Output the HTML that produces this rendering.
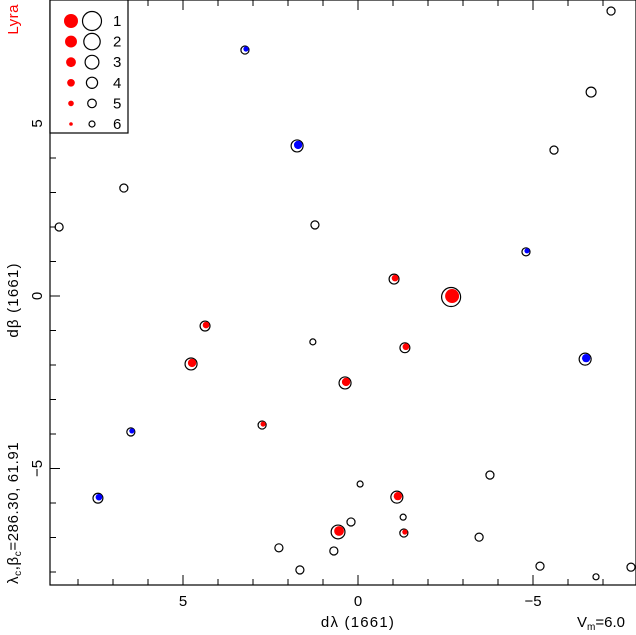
<!DOCTYPE html>
<html><head><meta charset="utf-8"><style>
html,body{margin:0;padding:0;background:#fff}
svg{display:block;font-family:"Liberation Sans",sans-serif}
</style></head><body>
<svg id="chart" width="636" height="635" viewBox="0 0 636 635">
<g id="marks"></g>
<g id="axes"></g>
</svg>
<script>
const xs   = [-2.66,3.23,1.74,-6.66,-7.23,-5.6,6.69,8.54,1.23,-4.8,-1.03,4.37,1.29,-1.34,4.77,-6.49,0.37,6.49,2.74,7.43,-0.06,-3.77,-1.11,0.57,0.2,-1.29,-1.31,-3.46,2.26,0.69,1.66,-5.2,-6.8,-7.8];
const ys   = [-0.03,7.13,4.35,5.91,8.26,4.23,3.13,2.0,2.06,1.28,0.49,-0.87,-1.33,-1.5,-1.97,-1.83,-2.52,-3.94,-3.74,-5.86,-5.45,-5.19,-5.83,-6.84,-6.55,-6.41,-6.87,-6.99,-7.3,-7.39,-7.94,-7.83,-8.14,-7.86];
const mags = [1,5.2,3.7,4.5,5.2,5.2,5.2,5.2,5.2,5.2,4.5,4.5,6,4.5,3.7,3.7,3.7,5.2,5.2,4.5,6,5.2,3.7,3,5.2,6,5.2,5.2,5.2,5.2,5.2,5.2,6,5.2];
const cols = ["red","blue","blue","","","","","","","blue","red","red","","red","red","blue","red","blue","red","blue","","","red","red","","","red","","","","","","",""];
const xTicks = [5,0,-5];
const yTicks = [5,0,-5];
const legendMags = [1,2,3,4,5,6];

const L=50,R=636,T=0,B=585;
const X=v=>358-35*v;
const Y=v=>296-34.5*v;
const rOpen=m=>9.5-1.3*(m-1);
const rFill=m=>Math.max(1.8,7-1.05*(m-1));
const NS="http://www.w3.org/2000/svg";
function mk(tag,attrs,parent){const e=document.createElementNS(NS,tag);for(const k in attrs)e.setAttribute(k,attrs[k]);parent.appendChild(e);return e;}
const marks=document.getElementById('marks'), axes=document.getElementById('axes');

for(let i=0;i<xs.length;i++){
  const cx=X(xs[i]),cy=Y(ys[i]);
  const c=mk('circle',{cx:cx,cy:cy,r:rOpen(mags[i]),fill:'none',stroke:'#000','stroke-width':1.2},marks);
  
  
  if(cols[i]){
    const d=mk('circle',{cx:cx+1,cy:cy-1,r:rFill(mags[i]),fill:cols[i]==='red'?'#f00':'#00f'},marks);
    
    
  }
}

const fr=mk('rect',{x:L,y:T,width:R-L,height:B-T,fill:'none',stroke:'#000','stroke-width':1.2},axes);


for(let v=-8;v<=9;v++){
  const x=X(v); if(x>L&&x<R){mk('line',{x1:x,y1:B,x2:x,y2:B-(v%5===0?10:6),stroke:'#000'},axes);mk('line',{x1:x,y1:T,x2:x,y2:T+(v%5===0?10:6),stroke:'#000'},axes);}
  const y=Y(v); if(y>T&&y<B){mk('line',{x1:L,y1:y,x2:L+(v%5===0?10:6),y2:y,stroke:'#000'},axes);}
}
xTicks.forEach(v=>{
  const t=mk('text',{x:X(v),y:606,'text-anchor':'middle','font-size':15},axes);
  t.textContent=v<0?'\u2212'+(-v):String(v);
  
  
});
yTicks.forEach(v=>{
  const t=mk('text',{x:0,y:0,'text-anchor':'middle','font-size':15,transform:`translate(42,${Y(v)}) rotate(-90)`},axes);
  t.textContent=v<0?'\u2212'+(-v):String(v);
  
  
});
const lg=mk('g',{},axes);


mk('rect',{x:L,y:0,width:78,height:133,fill:'#fff',stroke:'#000','stroke-width':1.2},lg);
legendMags.forEach((m,i)=>{
  const y=21+i*20.6;
  mk('circle',{cx:71,cy:y,r:rFill(m),fill:'#f00'},lg);
  mk('circle',{cx:92,cy:y,r:rOpen(m),fill:'none',stroke:'#000','stroke-width':1.2},lg);
  const t=mk('text',{x:113,y:y+5,'font-size':15},lg);
  t.textContent=String(m);
  
  
});
</script>
<svg width="636" height="635" style="position:absolute;left:0;top:0">
<text x="0" y="0" font-size="15" fill="#f00" text-anchor="end" letter-spacing="0.5" transform="translate(18,4) rotate(-90)">Lyra</text>
<text x="0" y="0" font-size="15" text-anchor="middle" letter-spacing="1.2" transform="translate(18,300) rotate(-90)">dβ (1661)</text>
<text x="0" y="0" font-size="15" text-anchor="start" letter-spacing="0.6" transform="translate(18,584) rotate(-90)">λ<tspan font-size="10" dy="3">c</tspan><tspan dy="-3">,β</tspan><tspan font-size="10" dy="3">c</tspan><tspan dy="-3">=286.30, 61.91</tspan></text>
<text x="358" y="627" font-size="15" text-anchor="middle" letter-spacing="1.2">dλ (1661)</text>
<text x="577" y="627" font-size="15">V<tspan font-size="10" dy="3">m</tspan><tspan dy="-3">=6.0</tspan></text>
</svg>
</body></html>
